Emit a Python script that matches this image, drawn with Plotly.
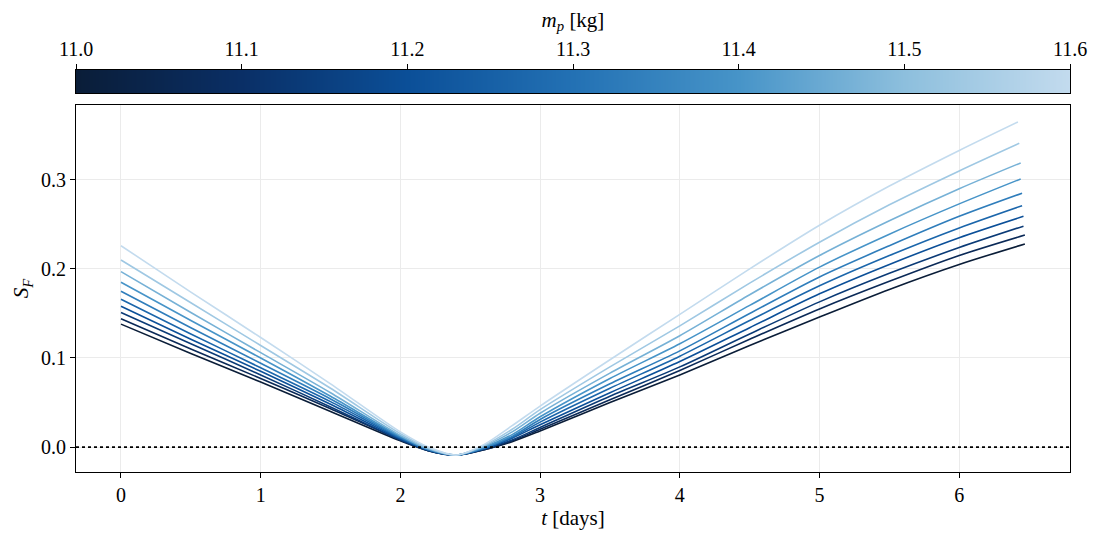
import numpy as np
import plotly.graph_objects as go
from plotly.colors import sample_colorscale

# ---- data ----
t_days = [0.0, 0.5, 1.0, 1.5, 2.0, 2.2, 2.4, 2.6, 2.8, 3.0, 3.5, 4.0, 4.5, 5.0, 5.5, 6.0]
t_end = [6.47, 6.47, 6.46, 6.46, 6.45, 6.45, 6.44, 6.44, 6.43, 6.42]
mass_kg = [11.0, 11.067, 11.133, 11.2, 11.267, 11.333, 11.4, 11.467, 11.533, 11.6]

sf_m1 = [0.138, 0.105, 0.073, 0.040, 0.007, -0.004, -0.009, -0.003, 0.006, 0.018, 0.050, 0.081, 0.114, 0.146, 0.177, 0.205, 0.228]
sf_m2 = [0.144, 0.110, 0.077, 0.043, 0.008, -0.004, -0.009, -0.003, 0.007, 0.020, 0.053, 0.086, 0.121, 0.155, 0.186, 0.215, 0.238]
sf_m3 = [0.151, 0.116, 0.081, 0.045, 0.008, -0.004, -0.009, -0.002, 0.008, 0.022, 0.057, 0.090, 0.127, 0.163, 0.195, 0.224, 0.248]
sf_m4 = [0.158, 0.121, 0.085, 0.048, 0.009, -0.003, -0.009, -0.002, 0.010, 0.025, 0.061, 0.096, 0.134, 0.172, 0.205, 0.235, 0.259]
sf_m5 = [0.166, 0.127, 0.089, 0.051, 0.010, -0.003, -0.009, -0.001, 0.011, 0.028, 0.066, 0.102, 0.142, 0.181, 0.215, 0.246, 0.271]
sf_m6 = [0.175, 0.134, 0.094, 0.054, 0.011, -0.003, -0.009, -0.001, 0.012, 0.031, 0.071, 0.108, 0.150, 0.191, 0.226, 0.259, 0.285]
sf_m7 = [0.185, 0.142, 0.100, 0.057, 0.012, -0.002, -0.009, 0.000, 0.014, 0.034, 0.077, 0.116, 0.159, 0.202, 0.239, 0.273, 0.301]
sf_m8 = [0.197, 0.151, 0.106, 0.061, 0.013, -0.002, -0.009, 0.001, 0.017, 0.038, 0.083, 0.125, 0.171, 0.215, 0.254, 0.290, 0.319]
sf_m9 = [0.210, 0.162, 0.114, 0.066, 0.015, -0.001, -0.009, 0.002, 0.020, 0.042, 0.090, 0.136, 0.184, 0.230, 0.272, 0.310, 0.341]
sf_m10 = [0.226, 0.174, 0.123, 0.071, 0.017, 0.000, -0.009, 0.003, 0.024, 0.046, 0.098, 0.149, 0.200, 0.249, 0.293, 0.333, 0.365]
series = [sf_m1, sf_m2, sf_m3, sf_m4, sf_m5, sf_m6, sf_m7, sf_m8, sf_m9, sf_m10]

x_ticks = [0, 1, 2, 3, 4, 5, 6]
y_ticks = [0.0, 0.1, 0.2, 0.3]
cb_ticks = [11.0, 11.1, 11.2, 11.3, 11.4, 11.5, 11.6]

# ---- style ----
FONT = "Liberation Serif"
TICK = 20
TITLE = 21
cscale = [
    [0.0, "#0a1d38"],
    [0.167, "#0a2f66"],
    [0.333, "#0b4f98"],
    [0.5, "#2371b4"],
    [0.667, "#4794c8"],
    [0.833, "#8dbfdd"],
    [1.0, "#c3dbee"],
]
mmin, mmax = 11.0, 11.6

fig = go.Figure()
for m, ys, te in zip(mass_kg, series, t_end):
    col = sample_colorscale(cscale, [(m - mmin) / (mmax - mmin)])[0]
    fig.add_trace(go.Scatter(
        x=t_days + [te], y=ys, mode="lines",
        line=dict(color=col, width=1.6, shape="spline", smoothing=0.8),
        showlegend=False, hoverinfo="skip", xaxis="x", yaxis="y",
    ))

# colorbar drawn as a gradient strip on its own top axis
grad = np.linspace(mmin, mmax, 400)
fig.add_trace(go.Heatmap(
    x=grad, y=[0], z=[grad], colorscale=cscale, zmin=mmin, zmax=mmax,
    zsmooth="best", showscale=False, hoverinfo="skip", xaxis="x2", yaxis="y2",
))

fig.add_shape(type="line", xref="x domain", x0=0, x1=1, yref="y", y0=0, y1=0,
              line=dict(color="black", width=1.8, dash="dot"), layer="above")

H_TOP, H_BOT = 70, 63
plot_h = 535 - H_TOP - H_BOT
main_top = (535 - H_BOT - 105) / plot_h
cb_bot = (535 - H_BOT - 93) / plot_h

fig.update_layout(
    width=1095, height=535,
    margin=dict(l=76, r=25, t=H_TOP, b=H_BOT, autoexpand=False),
    paper_bgcolor="white", plot_bgcolor="white",
    font=dict(family=FONT, size=TICK, color="black"),
    xaxis=dict(
        domain=[0, 1], anchor="y",
        range=[-0.322, 6.793], tickvals=x_ticks, ticktext=[str(v) for v in x_ticks],
        showgrid=True, gridcolor="#ebebeb", gridwidth=1, zeroline=False,
        showline=True, linecolor="black", linewidth=1, mirror=True,
        ticks="outside", ticklen=5, tickcolor="black",
        tickfont=dict(family=FONT, size=TICK),
        title=dict(text="<i>t</i> [days]", font=dict(family=FONT, size=TITLE), standoff=4),
    ),
    yaxis=dict(
        domain=[0, main_top], anchor="x",
        range=[-0.028, 0.384], tickvals=y_ticks, ticktext=[f"{v:.1f}" for v in y_ticks],
        showgrid=True, gridcolor="#ebebeb", gridwidth=1, zeroline=False,
        showline=True, linecolor="black", linewidth=1, mirror=True,
        ticks="outside", ticklen=5, tickcolor="black",
        tickfont=dict(family=FONT, size=TICK),
        title=dict(text="<i>S</i><sub><i>F</i></sub>", font=dict(family=FONT, size=TITLE), standoff=6),
    ),
    xaxis2=dict(
        domain=[0, 1], anchor="y2", side="top",
        range=[mmin, mmax], tickvals=cb_ticks, ticktext=[f"{v:.1f}" for v in cb_ticks],
        showgrid=False, zeroline=False,
        showline=True, linecolor="black", linewidth=1.2, mirror=True,
        ticks="outside", ticklen=5, tickcolor="black",
        tickfont=dict(family=FONT, size=TICK),
        title=dict(text="<i>m</i><sub><i>p</i></sub> [kg]", font=dict(family=FONT, size=TITLE), standoff=4),
    ),
    yaxis2=dict(
        domain=[cb_bot, 1], anchor="x2",
        range=[-0.5, 0.5], showticklabels=False, ticks="", showgrid=False, zeroline=False,
        showline=True, linecolor="black", linewidth=1.2, mirror=True,
    ),
)

fig.write_html("out.html", config={"displayModeBar": False},
               post_script="document.body.style.margin='0px';")
